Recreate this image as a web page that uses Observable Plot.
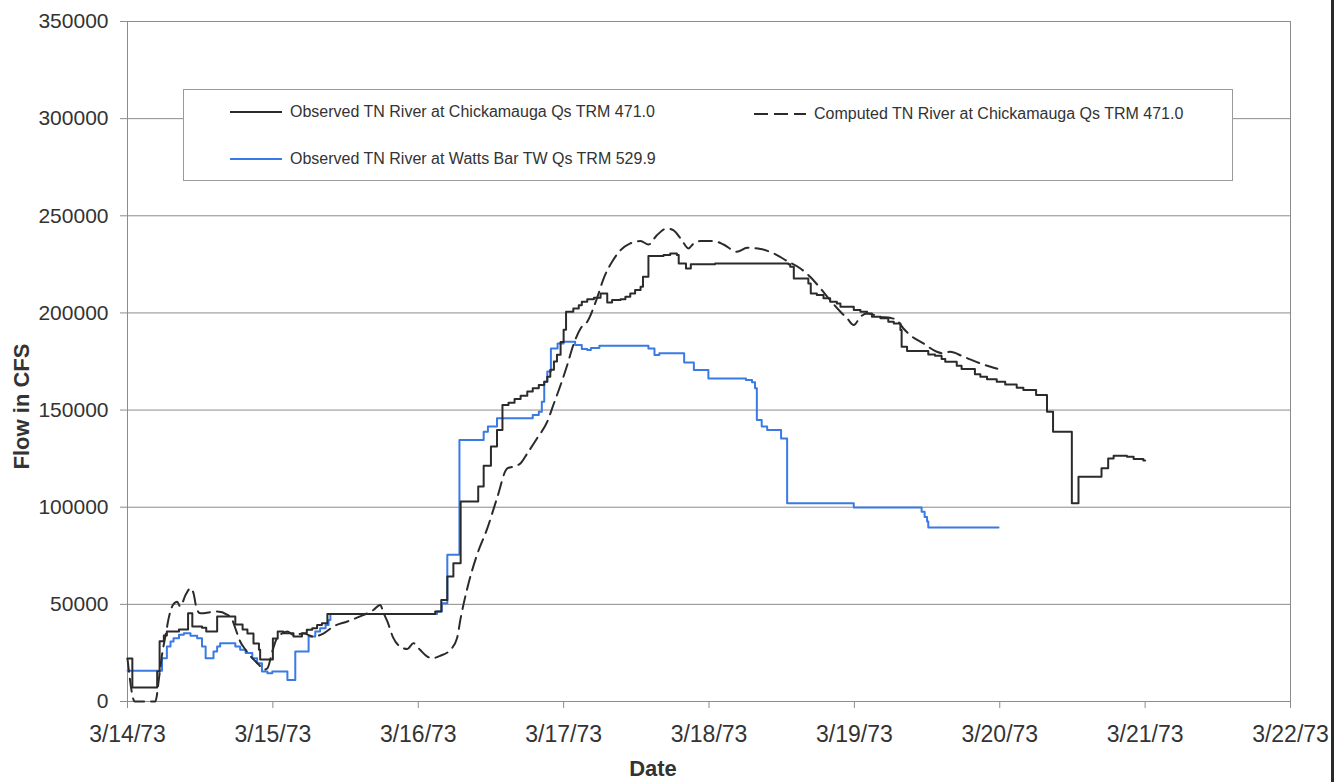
<!DOCTYPE html>
<html>
<head>
<meta charset="utf-8">
<script src="https://cdn.jsdelivr.net/npm/d3@7"></script>
<script src="https://cdn.jsdelivr.net/npm/@observablehq/plot@0.6"></script>
<style>
  html, body { margin: 0; padding: 0; background: #fff; }
  #wrap { position: relative; width: 1340px; height: 782px; overflow: hidden; font-family: "Liberation Sans", Arial, sans-serif; }
  #legend { position: absolute; left: 183px; top: 89px; width: 1050px; height: 92px; background: #fff; border: 1px solid #9a9a9a; box-sizing: border-box; }
  .lg-item { position: absolute; display: flex; align-items: center; font-size: 16px; color: #333; white-space: nowrap; }
  .lg-item svg { margin-right: 4px; }
  #scanline { position: absolute; left: 1331px; top: 0; width: 3px; height: 782px; background: #2a2a2a; }
</style>
</head>
<body>
<div id="wrap"><div id="chart"></div><div id="legend"></div><div id="scanline"></div></div>
<script>
// ---- Data (hours after 3/14/73 00:00, flow in CFS) ----
const chickObsHours = [0,0.8,4.9,5.3,6.0,6.5,8.5,10.0,10.7,12.3,13.0,14.8,17.8,19.0,19.8,20.8,21.7,21.9,24.0,24.8,25.7,27.4,28.8,29.6,30.5,31.3,32.1,33.0,50.8,51.8,52.8,53.8,55.0,57.9,58.8,60.0,61.0,61.9,62.9,63.9,64.9,66.0,66.9,67.9,68.8,69.3,69.8,70.4,70.9,71.5,72.0,72.4,73.6,74.5,75.0,75.9,77.0,78.1,79.2,80.0,81.4,82.2,83.0,83.8,84.7,85.1,86.0,88.5,89.6,90.7,91.0,92.2,93.0,97.0,109.1,109.4,110.0,112.4,112.8,113.8,114.9,116.0,117.1,117.7,119.9,121.0,122.1,122.9,124.3,125.6,126.5,127.6,127.8,128.7,132.2,133.3,134.4,135.0,136.9,137.7,139.9,140.8,141.9,143.5,144.9,146.8,147.9,150.0,151.8,152.8,155.9,157.0,160.8,161.9,162.8,165.0,166.1,167.7,168.0];
const chickObsFlow = [22100,7200,15400,31000,34000,36000,37000,45400,38600,38000,36000,43700,39600,37000,35000,29800,26700,21600,32400,36000,35100,33400,35100,36900,37700,39400,40300,45000,46300,52300,64300,71100,102900,110600,121400,131200,139800,152600,153800,155700,157400,159500,161200,162900,164600,167200,170800,175000,178500,185000,191300,200600,202300,204000,205800,207100,207800,210000,205400,206600,207100,208300,210000,211800,213500,218600,229300,229800,230600,229800,225500,222900,225000,225500,225000,223800,217700,215200,210000,209200,207500,205800,204900,203200,201500,200600,199700,198000,197200,195500,194600,191200,182600,180400,178600,178000,176300,174900,172800,171100,168400,167200,165800,164600,163200,161500,160300,157800,149200,138900,102000,115700,120000,125100,126500,126000,124800,124000,124000];

const chickCompHours = [0,1.2,4.6,5.2,5.7,6.3,6.8,7.5,8.2,8.7,9.6,10.4,10.9,11.4,12.0,14.8,16.5,17.3,17.8,18.6,19.5,20.6,21.7,22.5,23.1,23.9,24.7,26.4,27.4,29.1,30.7,32.4,34.0,36.3,38.4,40.6,41.7,42.3,42.9,43.9,45.0,46.2,47.2,48.3,49.5,50.3,51.6,53.3,54.4,55.0,56.1,57.7,59.4,61.0,62.7,63.7,64.9,66.0,67.6,69.3,70.3,71.5,72.6,73.6,74.8,75.9,77.5,78.6,80.0,81.4,83.0,84.7,86.0,87.4,89.1,90.1,91.5,92.6,93.5,94.6,96.8,98.4,100.6,102.3,104.5,106.7,108.9,111.1,112.7,114.4,116.0,117.7,118.8,119.9,121.0,122.1,124.3,125.9,127.0,128.1,129.2,131.4,133.6,134.7,135.8,138.0,140.8,143.6];
const chickCompFlow = [22000,0,0,12000,24000,34300,42900,49700,51400,48900,54900,58300,55700,48000,45400,46300,44600,42000,37700,30900,26600,22300,18900,16300,17100,25700,32600,36000,34300,35000,33400,35100,38600,41200,43800,47100,49700,45400,41200,32600,28300,27000,30000,26600,23100,22300,23500,26600,32600,42900,58300,75500,89100,104600,120000,120900,122600,127700,135400,144000,152600,162900,173200,183500,192000,195500,207500,217700,226300,232300,235800,237000,235200,240000,243500,242600,237500,233200,235800,237000,237000,235200,231500,233500,232900,230600,226700,222900,218600,212600,206600,200600,197200,193800,198000,199700,198000,197500,196300,192000,188600,184300,180000,179200,180000,177500,174000,171300];

const wattsHours = [0,5.7,6.5,7.1,7.6,8.5,9.3,10.4,11.5,12.3,12.9,14.2,14.8,15.3,17.8,18.6,19.5,20.6,21.4,22.2,23.1,23.9,26.4,27.7,29.9,31.0,31.8,32.7,33.2,33.5,51.1,51.9,52.8,54.8,58.8,59.5,61.0,66.9,67.9,68.4,68.8,69.3,69.9,71.0,72.0,73.9,75.0,75.9,76.5,77.9,86.0,87.0,87.8,91.9,93.5,95.9,102.1,103.1,103.6,103.9,104.7,105.6,107.9,108.9,119.9,131.1,131.6,132.0,132.2,143.8];
const wattsFlow = [15800,22300,28300,30900,32600,34300,35100,33900,32600,28300,22300,25700,28300,30000,28300,26600,24900,22300,19700,15400,14600,15400,11100,25700,33400,36000,37700,39400,42000,45000,46300,50600,75500,134600,138900,141500,145800,147500,149200,154300,164600,169800,181700,184300,185200,183500,181400,180900,182000,183100,181700,178300,179200,174500,170600,166300,165500,164300,161200,144900,141500,139800,135400,102000,99900,97700,95000,92600,89500,89500];

const seriesNames = [
  "Observed TN River at Chickamauga Qs TRM 471.0",
  "Computed TN River at Chickamauga Qs TRM 471.0",
  "Observed TN River at Watts Bar TW Qs TRM 529.9"
];
const xTickLabels = ["3/14/73","3/15/73","3/16/73","3/17/73","3/18/73","3/19/73","3/20/73","3/21/73","3/22/73"];
const yTicks = [0,50000,100000,150000,200000,250000,300000,350000];

// ---- Build rows ----
const start = Date.UTC(1973, 2, 14);
const toDate = h => new Date(start + h * 3600e3);
const rows = (hs, vs) => hs.map((h, i) => ({date: toDate(h), flow: vs[i]}));
const obsChick = rows(chickObsHours, chickObsFlow);
const compChick = rows(chickCompHours, chickCompFlow);
const obsWatts = rows(wattsHours, wattsFlow);
const xTicks = xTickLabels.map((_, i) => new Date(start + i * 864e5));

const BLACK = "#2b2b2b", BLUE = "#3a7ae4", GRID = "#8c8c8c", TEXT = "#333";

const chart = Plot.plot({
  width: 1340,
  height: 782,
  marginLeft: 127,
  marginRight: 50,
  marginTop: 21,
  marginBottom: 81,
  style: {fontFamily: '"Liberation Sans", Arial, sans-serif', color: TEXT, background: "#fff"},
  x: {type: "utc", domain: [new Date(start), new Date(start + 8 * 864e5)]},
  y: {domain: [0, 350000]},
  marks: [
    Plot.gridY(yTicks, {stroke: GRID, strokeOpacity: 1, strokeWidth: 1}),
    Plot.frame({stroke: GRID, strokeWidth: 1}),
    Plot.axisY({ticks: yTicks, tickFormat: d3.format("d"), tickSize: 7, tickPadding: 12, fontSize: 21, label: null, stroke: GRID}),
    Plot.axisX({ticks: xTicks, tickFormat: d => xTickLabels[Math.round((d - start) / 864e5)], tickSize: 7, tickPadding: 17, fontSize: 23, label: null, stroke: GRID}),
    Plot.line(obsWatts, {x: "date", y: "flow", curve: "step-after", stroke: BLUE, strokeWidth: 2}),
    Plot.line(compChick, {x: "date", y: "flow", curve: "monotone-x", stroke: BLACK, strokeWidth: 2, strokeDasharray: "13,7"}),
    Plot.line(obsChick, {x: "date", y: "flow", curve: "step-after", stroke: BLACK, strokeWidth: 2}),
    Plot.text(["Flow in CFS"], {text: d => d, frameAnchor: "left", textAnchor: "middle", lineAnchor: "middle", dx: -106, dy: 45, rotate: -90, fontSize: 22, fontWeight: "bold", fill: TEXT}),
    Plot.text(["Date"], {text: d => d, frameAnchor: "bottom", textAnchor: "middle", lineAnchor: "middle", dx: -56, dy: 67, fontSize: 22, fontWeight: "bold", fill: TEXT})
  ]
});
document.getElementById("chart").appendChild(chart);

// ---- Legend ----
const legend = document.getElementById("legend");
const legendItems = [
  {name: seriesNames[0], color: BLACK, dash: null, left: 46, top: 22},
  {name: seriesNames[1], color: BLACK, dash: "14,6", left: 570, top: 24},
  {name: seriesNames[2], color: BLUE, dash: null, left: 46, top: 69}
];
legendItems.forEach(it => {
  const div = document.createElement("div");
  div.className = "lg-item";
  div.style.left = it.left + "px";
  div.style.top = (it.top - 10) + "px";
  div.style.height = "20px";
  div.innerHTML = `<svg width="56" height="6"><line x1="0" x2="52" y1="3" y2="3" stroke="${it.color}" stroke-width="2" ${it.dash ? `stroke-dasharray="${it.dash}"` : ""}/></svg><span>${it.name}</span>`;
  legend.appendChild(div);
});
</script>
</body>
</html>
